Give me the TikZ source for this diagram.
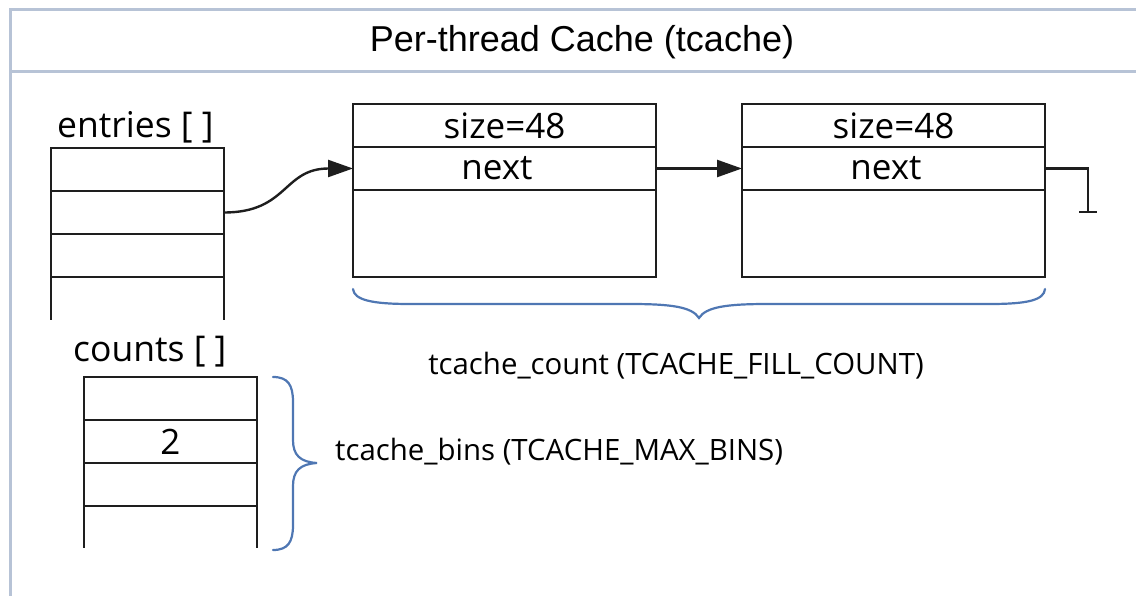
\documentclass[tikz,border=0pt]{standalone}
\usepackage{fontspec}
\setmainfont{Open Sans}
\newfontfamily\titlefont{Liberation Sans}
\usetikzlibrary{arrows.meta}
\definecolor{framec}{HTML}{B7C3D6}
\definecolor{bracec}{HTML}{4F77B3}
\definecolor{ink}{HTML}{1E1E1E}
\tikzset{
  frameline/.style={draw=framec, line width=3pt},
  wire/.style={draw=ink, line width=2.4pt},
  cell/.style={draw=ink, line width=2.4pt, minimum width=173pt, minimum height=43pt,
    inner sep=0pt, outer sep=0pt, font=\fontsize{35}{40}\selectfont},
  field/.style={draw=ink, line width=2.4pt, minimum width=303pt, minimum height=43pt,
    inner sep=0pt, outer sep=0pt, font=\fontsize{35}{40}\selectfont},
  lbl/.style={font=\fontsize{35.5}{40}\selectfont, inner sep=0pt},
  note/.style={font=\fontsize{29.4}{34}\selectfont, inner sep=0pt},
  link/.style={draw=ink, line width=2.4pt, -{Triangle[length=25pt,width=17pt]}},
  bracepath/.style={draw=bracec, line width=2.2pt, line cap=round},
}
\begin{document}
\begin{tikzpicture}[x=1pt,y=-1pt]
\useasboundingbox (0,0) rectangle (1136,596);

% outer table frame with title row
\draw[frameline] (10,596) -- (10,10) -- (1136,10);
\draw[frameline] (10,72) -- (1136,72);
\node[font=\titlefont\fontsize{36}{40}\selectfont] (title) at (582,42) {Per-thread Cache (tcache)};

% entries[] array
\node[lbl, anchor=west] (elbl) at (57,127) {entries [ ]};
\node[cell] (e1) at (137.5,169.5) {};
\node[cell] (e2) at (137.5,212.5) {};
\node[cell] (e3) at (137.5,255.5) {};
\draw[wire] (e3.south west) -- ++(0,43);
\draw[wire] (e3.south east) -- ++(0,43);

% first chunk
\node[field] (c1size) at (504.5,125.5) {size=48};
\node[field] (c1next) at (504.5,168.5) {next\kern15pt};
\node[field, minimum height=87pt] (c1data) at (504.5,233.5) {};

% second chunk
\node[field] (c2size) at (893.5,125.5) {size=48};
\node[field] (c2next) at (893.5,168.5) {next\kern15pt};
\node[field, minimum height=87pt] (c2data) at (893.5,233.5) {};

% list links
\draw[link] (e2.east) .. controls +(64,0) and +(-70,0) .. (c1next.west);
\draw[link] (c1next.east) -- (c2next.west);

% NULL terminator
\coordinate (nil) at (1088,212);
\coordinate (nilL) at (1079,212);
\coordinate (nilR) at (1097,212);
\draw[wire] (c2next.east) -| (nil);
\draw[wire] (nilL) -- (nilR);

% brace under the chunks
\coordinate (bL) at (353,289);
\coordinate (bTip) at (699,318);
\coordinate (bR) at (1045,289);
\draw[bracepath] (bL) .. controls (354,300) and (372,304) .. (410,304)
  -- (630,304) .. controls (672,304) and (692,307) .. (bTip)
  .. controls (706,307) and (726,304) .. (768,304)
  -- (990,304) .. controls (1028,304) and (1044,300) .. (bR);
\node[note] (fill) at (676,366) {tcache\_count (TCACHE\_FILL\_COUNT)};

% counts[] array
\node[lbl, anchor=west] (klbl) at (73,352) {counts [ ]};
\node[cell] (k1) at (170.5,398.5) {};
\node[cell] (k2) at (170.5,441.5) {2};
\node[cell] (k3) at (170.5,484.5) {};
\draw[wire] (k3.south west) -- ++(0,42);
\draw[wire] (k3.south east) -- ++(0,42);

% brace beside counts
\coordinate (rT) at (273,377);
\coordinate (rTip) at (317,463);
\coordinate (rB) at (273,550);
\draw[bracepath] (rT) .. controls (288,377) and (293,385) .. (293,402)
  -- (293,440) .. controls (293,455) and (300,462) .. (rTip)
  .. controls (300,464) and (293,471) .. (293,486)
  -- (293,525) .. controls (293,542) and (288,550) .. (rB);
\node[note, anchor=west] (bins) at (335,452) {tcache\_bins (TCACHE\_MAX\_BINS)};
\end{tikzpicture}
\end{document}
